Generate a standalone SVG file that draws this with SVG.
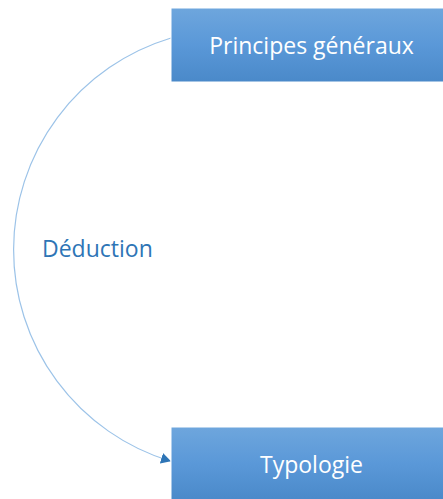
<svg xmlns="http://www.w3.org/2000/svg" width="443" height="499" viewBox="0 0 443 499">
<style>
.box{fill:url(#g);stroke:#ffffff;stroke-width:1}
.lbl{font-family:"Open Sans","Noto Sans",sans-serif;font-size:23px;fill:#ffffff;text-anchor:middle}
.edge{fill:none;stroke:#9cc3e8;stroke-width:1.2}
.elbl{font-family:"Open Sans","Noto Sans",sans-serif;font-size:23px;fill:#2e75b6}
</style>
<defs>
<linearGradient id="g" x1="0" y1="0" x2="0" y2="1">
<stop offset="0" stop-color="#6ea6dd"/>
<stop offset="0.5" stop-color="#5a98d8"/>
<stop offset="1" stop-color="#4a89c9"/>
</linearGradient>
<marker id="arr" markerWidth="12" markerHeight="12" refX="9" refY="5.5" orient="auto" markerUnits="userSpaceOnUse">
<path d="M0,0 L10,5.5 L0,11 Z" fill="#2e75b6"/>
</marker>
</defs>
<g id="connectors">
<path class="edge" d="M171,38 A221,221 0 0 0 170,461" marker-end="url(#arr)"/>
<text class="elbl" x="42" y="257">Déduction</text>
</g>
<g id="node-principes">
<rect class="box" x="171" y="8" width="282" height="74"/>
<text class="lbl" x="311.5" y="54">Principes généraux</text>
</g>
<g id="node-typologie">
<rect class="box" x="171" y="427" width="282" height="74"/>
<text class="lbl" x="311.5" y="473">Typologie</text>
</g>
</svg>
